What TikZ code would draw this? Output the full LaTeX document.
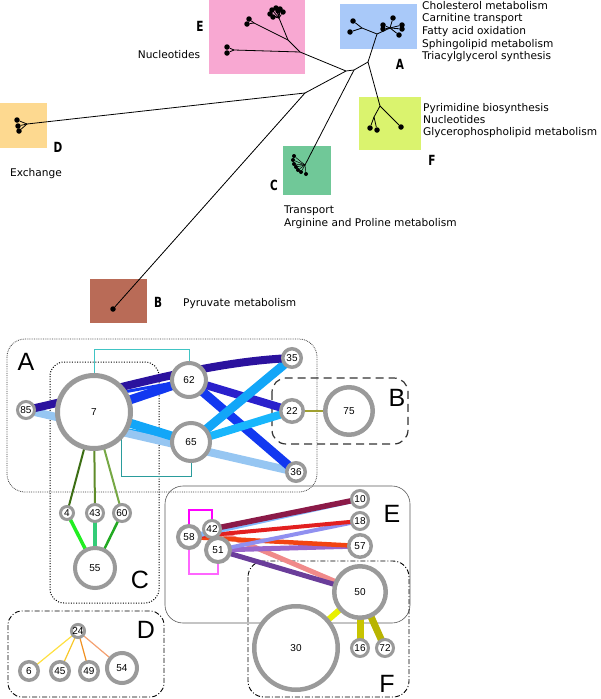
\documentclass[tikz,border=0pt]{standalone}
\usepackage{fontspec}
\setmainfont{DejaVu Sans}
\newfontfamily\arialf{Liberation Sans}
\usetikzlibrary{calc}
\pgfdeclarelayer{bg}
\pgfsetlayers{bg,main}
\definecolor{boxE}{HTML}{F8A8D2}
\definecolor{boxA}{HTML}{A9C9F9}
\definecolor{boxF}{HTML}{DAF36E}
\definecolor{boxD}{HTML}{FDD990}
\definecolor{boxC}{HTML}{70C898}
\definecolor{boxB}{HTML}{B96B57}
\definecolor{ndgray}{HTML}{9A9A9A}
\definecolor{cIndigo}{HTML}{2B129E}
\definecolor{cDblue}{HTML}{2A20CC}
\definecolor{cBlue}{HTML}{1238F0}
\definecolor{cCyan}{HTML}{12A6F8}
\definecolor{cCyan2}{HTML}{18B6FC}
\definecolor{cLight}{HTML}{96C6F2}
\definecolor{tealA}{HTML}{40C4C4}
\definecolor{tealB}{HTML}{2A9C9C}
\definecolor{gC1}{HTML}{3C6E14}
\definecolor{gC2}{HTML}{5F8C2A}
\definecolor{gC3}{HTML}{76A845}
\definecolor{gC4}{HTML}{22EE22}
\definecolor{gC5}{HTML}{33CC77}
\definecolor{gC6}{HTML}{22AA22}
\definecolor{yD1}{HTML}{FFE040}
\definecolor{yD2}{HTML}{F8C828}
\definecolor{yD3}{HTML}{F09020}
\definecolor{yD4}{HTML}{F4A070}
\definecolor{eMaroon}{HTML}{8B1A48}
\definecolor{eRed}{HTML}{E22020}
\definecolor{eOrange}{HTML}{F24412}
\definecolor{eLblue}{HTML}{80B8FF}
\definecolor{eLav}{HTML}{9090F0}
\definecolor{ePurple}{HTML}{9966CC}
\definecolor{ePink}{HTML}{F08A8A}
\definecolor{eDpurple}{HTML}{6A3D9A}
\definecolor{fY1}{HTML}{E8F000}
\definecolor{fY2}{HTML}{C8C400}
\definecolor{fY3}{HTML}{B8B400}
\definecolor{olv}{HTML}{A0A030}
\definecolor{mag1}{HTML}{FF00FF}
\definecolor{mag2}{HTML}{FF66FF}
\begin{document}
\begin{tikzpicture}[x=1pt,y=-1pt,
  leaf/.style={circle,fill=black,inner sep=0pt,minimum size=5.5pt},
  tline/.style={line width=0.8pt,black},
  ttext/.style={font=\fontsize{10.6}{12}\selectfont,inner sep=0pt},
  tlet/.style={font=\bfseries\fontsize{14}{14}\selectfont,inner sep=0pt},
  glet/.style={font=\arialf\fontsize{25}{25}\selectfont,inner sep=0pt},
  nd/.style 2 args={circle,draw=ndgray,fill=white,line width=#2,minimum size=#1,inner sep=0pt,font=\arialf\fontsize{10}{10}\selectfont},
  edg/.style 2 args={line width=#2,draw=#1},
]
\useasboundingbox (0,0) rectangle (600,699);

% ---------------- tree -----------------
\fill[boxE] (209,0) rectangle (305,74);
\fill[boxA] (340,4) rectangle (417,49);
\fill[boxF] (359,97) rectangle (421,150);
\fill[boxD] (0,103) rectangle (47,148);
\fill[boxC] (283,146) rectangle (331,195);
\fill[boxB] (90,279) rectangle (147,323);

\coordinate (r1) at (346,71);
\coordinate (r2) at (354,70);
\coordinate (j1) at (368,62);
\coordinate (ej) at (300,52);
\coordinate (ej2) at (288,40);
\coordinate (ej3) at (254,23);
\coordinate (ej4) at (279,18);
\coordinate (ej5) at (234,50);
\coordinate (aj) at (377,34);
\coordinate (aj1) at (362,28);
\coordinate (aj2) at (390,28);
\coordinate (fj) at (380,106);
\coordinate (fj1) at (374,117);
\coordinate (dj) at (305,93);
\coordinate (dj1) at (27,124);
\coordinate (cj) at (305,165);

\draw[tline] (r1) -- (r2) -- (j1) -- (aj);
\draw[tline] (j1) -- (fj);
\draw[tline] (r1) -- (ej) -- (ej2) -- (ej3);
\draw[tline] (ej2) -- (ej4);
\draw[tline] (ej) -- (ej5);
\draw[tline] (aj) -- (aj1);
\draw[tline] (aj) -- (aj2);
\draw[tline] (fj) -- (fj1);
\draw[tline] (r1) -- (dj) -- (dj1);
\draw[tline] (r2) -- (cj);

\foreach \p [count=\i] in {(249,19),(247,24)} {\node[leaf] (eA\i) at \p {}; \draw[tline] (ej3) -- (eA\i);}
\foreach \p [count=\i] in {(270,14),(272,10),(276,8),(280,9),(283,12),(273,17),(278,11)} {\node[leaf] (eB\i) at \p {}; \draw[tline] (ej4) -- (eB\i);}
\foreach \p [count=\i] in {(227,47),(227,53)} {\node[leaf] (eC\i) at \p {}; \draw[tline] (ej5) -- (eC\i);}
\foreach \p [count=\i] in {(353,21),(350,32)} {\node[leaf] (aA\i) at \p {}; \draw[tline] (aj1) -- (aA\i);}
\foreach \p [count=\i] in {(383,25),(383,29),(393,18),(402,25),(402,29),(399,35)} {\node[leaf] (aB\i) at \p {}; \draw[tline] (aj2) -- (aB\i);}
\foreach \p [count=\i] in {(370,128),(377,130)} {\node[leaf] (fA\i) at \p {}; \draw[tline] (fj1) -- (fA\i);}
\node[leaf] (fB1) at (401,127) {}; \draw[tline] (fj) -- (fB1);
\foreach \p [count=\i] in {(17,120),(18,126),(19,131)} {\node[leaf] (dA\i) at \p {}; \draw[tline] (dj1) -- (dA\i);}
\node[leaf] (bA1) at (113,309) {}; \draw[tline] (dj) -- (bA1);
\foreach \p [count=\i] in {(294,156),(293,160),(294,164),(296,167),(298,170),(301,172),(306,174)} {\node[leaf,minimum size=4pt] (cA\i) at \p {}; \draw[line width=0.5pt] (cj) -- (cA\i);}

\node[tlet] (lE) at (200,26) {\scalebox{0.75}[1]{E}};
\node[tlet] (lA) at (400,64) {\scalebox{0.75}[1]{A}};
\node[tlet] (lF) at (432,160) {\scalebox{0.75}[1]{F}};
\node[tlet] (lD) at (58,147) {\scalebox{0.75}[1]{D}};
\node[tlet] (lC) at (274,185) {\scalebox{0.75}[1]{C}};
\node[tlet] (lB) at (158,302) {\scalebox{0.75}[1]{B}};

\node[ttext,anchor=base] (tE) at (169,58) {Nucleotides};
\node[ttext,anchor=base west] (tA1) at (422,9) {Cholesterol metabolism};
\node[ttext,anchor=base west] (tA2) at (422,21.7) {Carnitine transport};
\node[ttext,anchor=base west] (tA3) at (422,34.4) {Fatty acid oxidation};
\node[ttext,anchor=base west] (tA4) at (422,47.1) {Sphingolipid metabolism};
\node[ttext,anchor=base west] (tA5) at (422,59.8) {Triacylglycerol synthesis};
\node[ttext,anchor=base west] (tF1) at (423,111) {Pyrimidine biosynthesis};
\node[ttext,anchor=base west] (tF2) at (423,123) {Nucleotides};
\node[ttext,anchor=base west] (tF3) at (423,135) {Glycerophospholipid metabolism};
\node[ttext,anchor=base] (tD) at (36,176) {Exchange};
\node[ttext,anchor=base west] (tC1) at (284,213) {Transport};
\node[ttext,anchor=base west] (tC2) at (284,226) {Arginine and Proline metabolism};
\node[ttext,anchor=base west] (tB) at (183,306) {Pyruvate metabolism};

% ---------------- graph nodes -----------------
\node[nd={73}{5}] (n7) at (94,412) {7};
\node[nd={17}{3}] (n85) at (26,410) {85};
\node[nd={34}{4}] (n62) at (189,380) {62};
\node[nd={38}{4}] (n65) at (191,442) {65};
\node[nd={18.5}{3.5}] (n35) at (292,358) {35};
\node[nd={22.5}{3.5}] (n22) at (292,411) {22};
\node[nd={18.5}{3.5}] (n36) at (296,472) {36};
\node[nd={47.5}{4.5}] (n75) at (349,411) {75};
\node[nd={13}{3}] (n4) at (67,513) {4};
\node[nd={17}{3}] (n43) at (95,513) {43};
\node[nd={17}{3}] (n60) at (122,513) {60};
\node[nd={40}{4}] (n55) at (95,568) {55};
\node[nd={13}{3}] (n24) at (78,631) {24};
\node[nd={18.5}{3.5}] (n6) at (29,671) {6};
\node[nd={18.5}{3.5}] (n45) at (60,671) {45};
\node[nd={18.5}{3.5}] (n49) at (89,671) {49};
\node[nd={30}{4}] (n54) at (122,668) {54};
\node[nd={17}{3}] (n42) at (212,529) {42};
\node[nd={22}{4}] (n58) at (189,537) {58};
\node[nd={24}{4}] (n51) at (218,550) {51};
\node[nd={17}{3}] (n10) at (360,499) {10};
\node[nd={17}{3}] (n18) at (360,521) {18};
\node[nd={22.5}{3.5}] (n57) at (360,546) {57};
\node[nd={51.5}{4.5}] (n50) at (360,592) {50};
\node[nd={83.5}{4.5}] (n30) at (296,648) {30};
\node[nd={17}{3}] (n16) at (360,648) {16};
\node[nd={17}{3}] (n72) at (385,648) {72};

\node[glet] (gA) at (26,362) {A};
\node[glet] (gB) at (397,398) {B};
\node[glet] (gC) at (140,580) {C};
\node[glet] (gD) at (146,630) {D};
\node[glet] (gE) at (392,514) {E};
\node[glet] (gF) at (387,684) {F};

\begin{pgfonlayer}{bg}
% group boxes
\draw[line width=0.8pt,draw=black!75,dash pattern=on 0.8pt off 1pt,rounded corners=18pt] (7,339) rectangle (317,492);
\draw[line width=1pt,black,dash pattern=on 1pt off 1.6pt,rounded corners=14pt] (50,362) rectangle (159,603);
\draw[line width=1.2pt,black!80,dash pattern=on 8pt off 5pt,rounded corners=14pt] (272,378) rectangle (408,444);
\draw[line width=0.9pt,black,dash pattern=on 5pt off 2pt on 1pt off 2pt,rounded corners=14pt] (8,611) rectangle (164,697);
\draw[line width=0.6pt,black!65,rounded corners=18pt] (165,486) rectangle (410,623);
\draw[line width=0.9pt,black,dash pattern=on 5pt off 2pt on 1pt off 2pt,rounded corners=16pt] (248,561) rectangle (409,697);

% brackets
\draw[tealA,line width=1pt] (n7.center) -- ($(n7.center)+(0,-63)$) -| (n62.center);
\draw[tealB,line width=1pt] ($(n7.center)+(27,0)$) -- ($(n7.center)+(27,64)$) -| (n65.center);
\draw[mag1,line width=1.3pt] (n58.center) -- ($(n58.center)+(0,-27)$) -| (n42.center);
\draw[mag2,line width=1.3pt] (n58.center) -- ($(n58.center)+(0,37)$) -| (n51.center);

% A edges
\draw[edg={cCyan}{3}] (n85.center) -- (n65.center);
\draw[edg={cBlue}{3}] (n85.center) -- (n62.center);
\draw[edg={cLight}{8}] (n85.center) -- (n36.center);
\draw[edg={cBlue}{9}] (n62.center) -- (n36.center);
\draw[edg={cDblue}{8}] (n62.center) -- (n22.center);
\draw[edg={cCyan2}{8}] (n65.center) -- (n22.center);
\draw[edg={cCyan}{9}] (n65.center) -- (n35.center);
\draw[edg={cCyan}{9}] (n7.center) -- (n65.center);
\draw[edg={cBlue}{9}] (n7.center) -- (n62.center);
\draw[edg={cIndigo}{8}] (n85.center) .. controls (110,392) and (200,362) .. (n35.center);
\draw[edg={olv}{1.5}] (n22.center) -- (n75.center);

% C edges
\draw[edg={gC1}{2}] (n7.center) -- (n4.center);
\draw[edg={gC2}{2}] (n7.center) -- (n43.center);
\draw[edg={gC3}{2}] (n7.center) -- (n60.center);
\draw[edg={gC4}{3.5}] (n4.center) -- (n55.center);
\draw[edg={gC5}{3.5}] (n43.center) -- (n55.center);
\draw[edg={gC6}{2.5}] (n60.center) -- (n55.center);

% D edges
\draw[edg={yD1}{1.2}] (n24.center) -- (n6.center);
\draw[edg={yD2}{1.2}] (n24.center) -- (n45.center);
\draw[edg={yD3}{1.2}] (n24.center) -- (n49.center);
\draw[edg={yD4}{1.2}] (n24.center) -- (n54.center);

% E edges
\draw[edg={ePink}{5}] (n42.center) -- (n50.center);
\draw[edg={eDpurple}{5}] (n51.center) -- (n50.center);
\draw[edg={ePurple}{5}] (n51.center) -- (n57.center);
\draw[edg={eOrange}{4.5}] (n58.center) -- (n57.center);
\draw[edg={eLav}{4}] (n51.center) -- (n18.center);
\draw[edg={eRed}{4}] (n58.center) -- (n18.center);
\draw[edg={eLblue}{5}] (n58.center) -- (n10.center);
\draw[edg={eMaroon}{5.5}] (n42.center) -- (n10.center);

% F edges
\draw[edg={fY1}{6}] (n50.center) -- (n30.center);
\draw[edg={fY2}{7}] (n50.center) -- (n16.center);
\draw[edg={fY3}{7}] (n50.center) -- (n72.center);
\end{pgfonlayer}
\end{tikzpicture}
\end{document}
